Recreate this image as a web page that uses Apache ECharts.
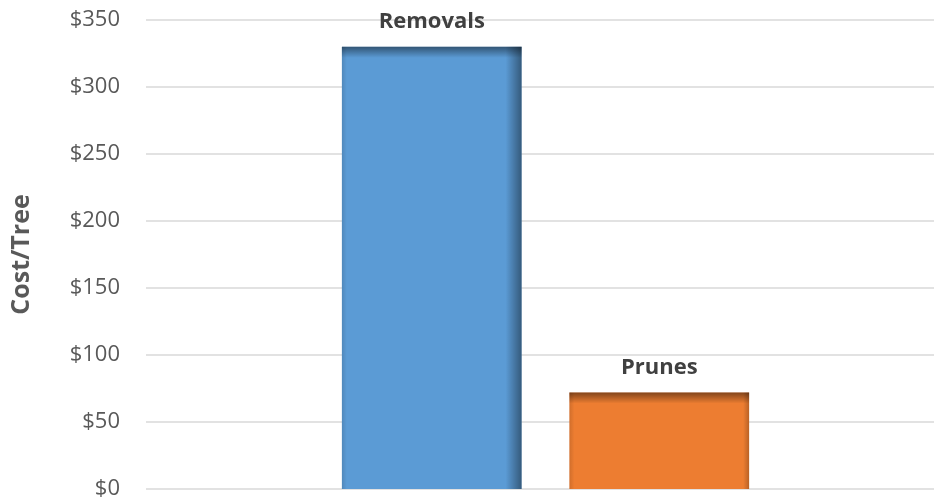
<!DOCTYPE html>
<html>
<head>
<meta charset="utf-8">
<style>
  html, body { margin: 0; padding: 0; background: #ffffff; }
  #chart { width: 934px; height: 500px; }
</style>
<script src="https://cdn.jsdelivr.net/npm/echarts@6/dist/echarts.min.js"></script>
</head>
<body>
<div id="chart"></div>
<script>
// Average cost per tree by type of work
const categories = ['Removals', 'Prunes'];
const costPerTree = [330, 72];
const barColors = ['#5B9BD5', '#ED7D31'];
const yTicks = [0, 50, 100, 150, 200, 250, 300, 350];

const yMin = yTicks[0];
const yMax = yTicks[yTicks.length - 1];
const yStep = yTicks[1] - yTicks[0];

const chart = echarts.init(document.getElementById('chart'), null, { renderer: 'canvas' });

// Column with an inner shade on its top and right edges
function renderColumn(params, api) {
  const idx = api.value(0);
  const val = api.value(1);
  const topPt = api.coord([idx, val]);
  const basePt = api.coord([idx, 0]);
  const band = api.size([1, 0])[0];
  const w = band * 0.79;
  const x = topPt[0] - w / 2;
  const y = topPt[1];
  const h = basePt[1] - topPt[1];
  const G = echarts.graphic.LinearGradient;
  const sideShade = idx === 0 ? 0.42 : 0.22;
  const sideWidth = idx === 0 ? 16 : 6;
  return {
    type: 'group',
    children: [
      { type: 'rect', shape: { x: x, y: y, width: w, height: h },
        style: { fill: barColors[idx] } },
      // right edge shade
      { type: 'rect', shape: { x: x, y: y, width: w, height: h },
        style: { fill: new G(x + w - sideWidth, 0, x + w, 0, [
          { offset: 0, color: 'rgba(0,0,0,0)' },
          { offset: 1, color: 'rgba(0,0,0,' + sideShade + ')' }
        ], true) } },
      // left edge shade
      { type: 'rect', shape: { x: x, y: y, width: w, height: h },
        style: { fill: new G(x, 0, x + 5, 0, [
          { offset: 0, color: 'rgba(0,0,0,0.12)' },
          { offset: 1, color: 'rgba(0,0,0,0)' }
        ], true) } },
      // top edge shade
      { type: 'rect', shape: { x: x, y: y, width: w, height: h },
        style: { fill: new G(0, y, 0, y + 11, [
          { offset: 0, color: 'rgba(0,0,0,0.45)' },
          { offset: 1, color: 'rgba(0,0,0,0)' }
        ], true) } },
      { type: 'text',
        style: { x: topPt[0], y: y - 14, text: categories[idx],
          align: 'center', verticalAlign: 'bottom',
          fill: '#404040', font: 'bold 22px "Open Sans", sans-serif' } }
    ]
  };
}

chart.setOption({
  animation: false,
  backgroundColor: '#ffffff',
  grid: [
    { left: 146, right: -11, top: 20, bottom: 11, containLabel: false },
    { left: 318, right: 161, top: 20, bottom: 11, containLabel: false }
  ],
  xAxis: [
    { type: 'category', gridIndex: 0, data: [''], show: false },
    { type: 'category', gridIndex: 1, data: categories, show: false }
  ],
  yAxis: [
    {
      type: 'value', gridIndex: 0, min: yMin, max: yMax, interval: yStep,
      name: 'Cost/Tree', nameLocation: 'middle', nameGap: 112,
      nameTextStyle: { fontFamily: 'Open Sans', fontWeight: 'bold', fontSize: 25, color: '#595959' },
      axisLine: { show: false }, axisTick: { show: false },
      axisLabel: { formatter: v => '$' + v, margin: 26, fontFamily: 'Open Sans', fontSize: 22, color: '#595959' },
      splitLine: { lineStyle: { color: '#d9d9d9', width: 1.5 } }
    },
    { type: 'value', gridIndex: 1, min: yMin, max: yMax, interval: yStep, show: false,
      splitLine: { show: false } }
  ],
  series: [
    {
      type: 'custom',
      xAxisIndex: 1, yAxisIndex: 1,
      renderItem: renderColumn,
      encode: { x: 0, y: 1 },
      data: costPerTree.map((v, i) => [i, v])
    }
  ]
});
</script>
</body>
</html>
